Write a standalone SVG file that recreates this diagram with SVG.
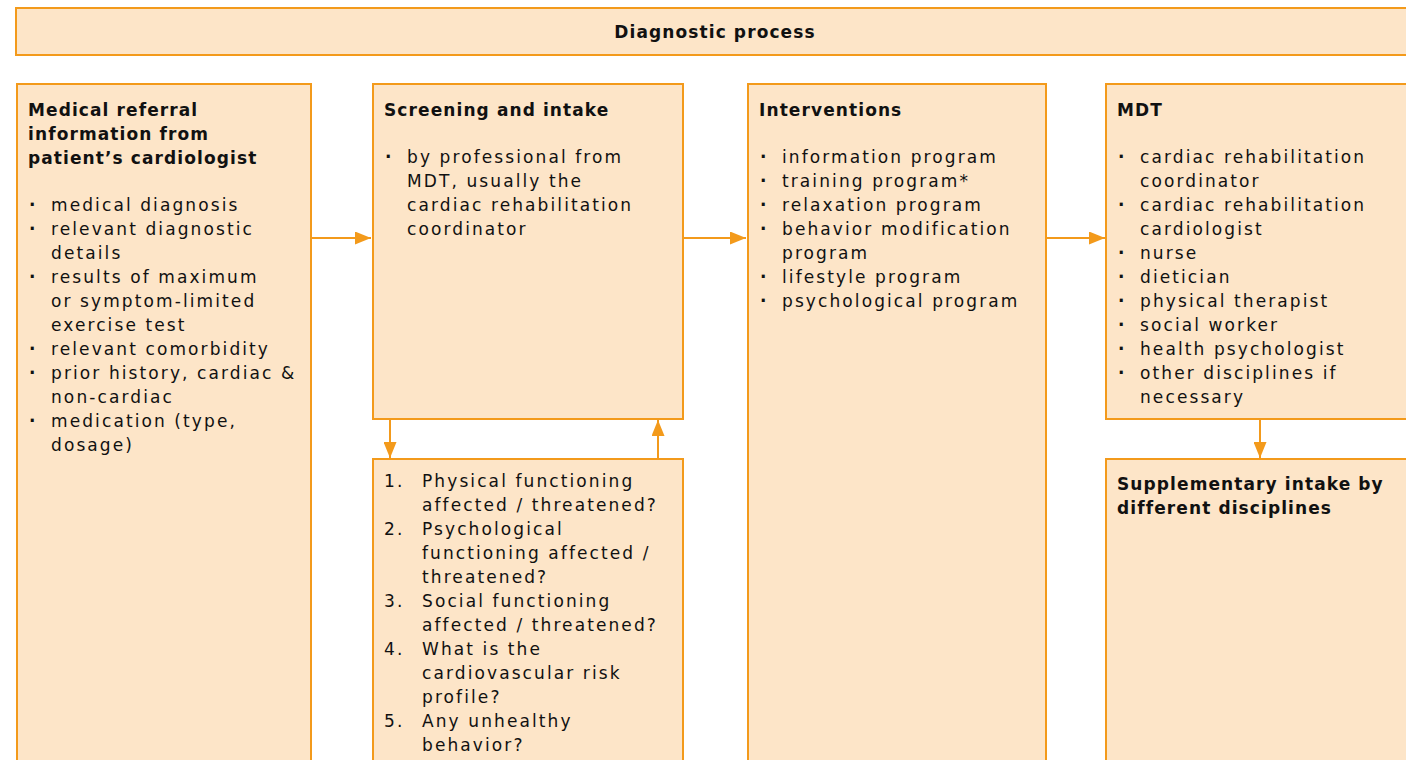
<svg xmlns="http://www.w3.org/2000/svg" width="1406" height="760" viewBox="0 0 1406 760">
<style>
.box{fill:#FDE5C8;stroke:#F39A1B;stroke-width:2}
.t{font-family:"DejaVu Sans","Liberation Sans",sans-serif;font-size:17px;letter-spacing:2.1px;fill:#111111}
.d{font-family:"DejaVu Sans","Liberation Sans",sans-serif;font-size:17px;font-weight:bold;fill:#111111}
.b{font-family:"DejaVu Sans","Liberation Sans",sans-serif;font-size:17px;font-weight:bold;letter-spacing:1.1px;fill:#111111}
.c{fill:none;stroke:#F39A1B;stroke-width:2}
</style>
<defs>
<marker id="ah" markerUnits="userSpaceOnUse" markerWidth="16" markerHeight="13" refX="16" refY="6.5" orient="auto">
<path d="M0,0 L16,6.5 L0,13 Z" fill="#F39A1B"/>
</marker>
</defs>
<rect width="1406" height="760" fill="#ffffff"/>

<g id="header">
<rect class="box" x="16" y="8" width="1400" height="47"/>
<text class="b" x="715" y="38" text-anchor="middle">Diagnostic process</text>
</g>

<g id="referral">
<rect class="box" x="17" y="84" width="294" height="690"/>
<text class="b" x="28" y="116">Medical referral</text>
<text class="b" x="28" y="140">information from</text>
<text class="b" x="28" y="164">patient’s cardiologist</text>
<text class="d" x="29" y="211">·</text><text class="t" x="51" y="211">medical diagnosis</text>
<text class="d" x="29" y="235">·</text><text class="t" x="51" y="235">relevant diagnostic</text>
<text class="t" x="51" y="259">details</text>
<text class="d" x="29" y="283">·</text><text class="t" x="51" y="283">results of maximum</text>
<text class="t" x="51" y="307">or symptom-limited</text>
<text class="t" x="51" y="331">exercise test</text>
<text class="d" x="29" y="355">·</text><text class="t" x="51" y="355">relevant comorbidity</text>
<text class="d" x="29" y="379">·</text><text class="t" x="51" y="379">prior history, cardiac &amp;</text>
<text class="t" x="51" y="403">non-cardiac</text>
<text class="d" x="29" y="427">·</text><text class="t" x="51" y="427">medication (type,</text>
<text class="t" x="51" y="451">dosage)</text>
</g>

<g id="screening">
<rect class="box" x="373" y="84" width="310" height="335"/>
<text class="b" x="384" y="116">Screening and intake</text>
<text class="d" x="385" y="163">·</text><text class="t" x="407" y="163">by professional from</text>
<text class="t" x="407" y="187">MDT, usually the</text>
<text class="t" x="407" y="211">cardiac rehabilitation</text>
<text class="t" x="407" y="235">coordinator</text>
</g>

<g id="questions">
<rect class="box" x="373" y="459" width="310" height="320"/>
<text class="t" x="384" y="487">1.</text><text class="t" x="422" y="487">Physical functioning</text>
<text class="t" x="422" y="511">affected / threatened?</text>
<text class="t" x="384" y="535">2.</text><text class="t" x="422" y="535">Psychological</text>
<text class="t" x="422" y="559">functioning affected /</text>
<text class="t" x="422" y="583">threatened?</text>
<text class="t" x="384" y="607">3.</text><text class="t" x="422" y="607">Social functioning</text>
<text class="t" x="422" y="631">affected / threatened?</text>
<text class="t" x="384" y="655">4.</text><text class="t" x="422" y="655">What is the</text>
<text class="t" x="422" y="679">cardiovascular risk</text>
<text class="t" x="422" y="703">profile?</text>
<text class="t" x="384" y="727">5.</text><text class="t" x="422" y="727">Any unhealthy</text>
<text class="t" x="422" y="751">behavior?</text>
</g>

<g id="interventions">
<rect class="box" x="748" y="84" width="298" height="690"/>
<text class="b" x="759" y="116">Interventions</text>
<text class="d" x="760" y="163">·</text><text class="t" x="782" y="163">information program</text>
<text class="d" x="760" y="187">·</text><text class="t" x="782" y="187">training program*</text>
<text class="d" x="760" y="211">·</text><text class="t" x="782" y="211">relaxation program</text>
<text class="d" x="760" y="235">·</text><text class="t" x="782" y="235">behavior modification</text>
<text class="t" x="782" y="259">program</text>
<text class="d" x="760" y="283">·</text><text class="t" x="782" y="283">lifestyle program</text>
<text class="d" x="760" y="307">·</text><text class="t" x="782" y="307">psychological program</text>
</g>

<g id="mdt">
<rect class="box" x="1106" y="84" width="310" height="335"/>
<text class="b" x="1117" y="116">MDT</text>
<text class="d" x="1118" y="163">·</text><text class="t" x="1140" y="163">cardiac rehabilitation</text>
<text class="t" x="1140" y="187">coordinator</text>
<text class="d" x="1118" y="211">·</text><text class="t" x="1140" y="211">cardiac rehabilitation</text>
<text class="t" x="1140" y="235">cardiologist</text>
<text class="d" x="1118" y="259">·</text><text class="t" x="1140" y="259">nurse</text>
<text class="d" x="1118" y="283">·</text><text class="t" x="1140" y="283">dietician</text>
<text class="d" x="1118" y="307">·</text><text class="t" x="1140" y="307">physical therapist</text>
<text class="d" x="1118" y="331">·</text><text class="t" x="1140" y="331">social worker</text>
<text class="d" x="1118" y="355">·</text><text class="t" x="1140" y="355">health psychologist</text>
<text class="d" x="1118" y="379">·</text><text class="t" x="1140" y="379">other disciplines if</text>
<text class="t" x="1140" y="403">necessary</text>
</g>

<g id="supplementary">
<rect class="box" x="1106" y="459" width="310" height="320"/>
<text class="b" x="1117" y="490">Supplementary intake by</text>
<text class="b" x="1117" y="514">different disciplines</text>
</g>

<g id="connectors">
<line class="c" x1="312" y1="238" x2="371" y2="238" marker-end="url(#ah)"/>
<line class="c" x1="684" y1="238" x2="746" y2="238" marker-end="url(#ah)"/>
<line class="c" x1="1047" y1="238" x2="1105" y2="238" marker-end="url(#ah)"/>
<line class="c" x1="390" y1="420" x2="390" y2="458" marker-end="url(#ah)"/>
<line class="c" x1="658" y1="458" x2="658" y2="420" marker-end="url(#ah)"/>
<line class="c" x1="1260" y1="420" x2="1260" y2="458" marker-end="url(#ah)"/>
</g>
</svg>
